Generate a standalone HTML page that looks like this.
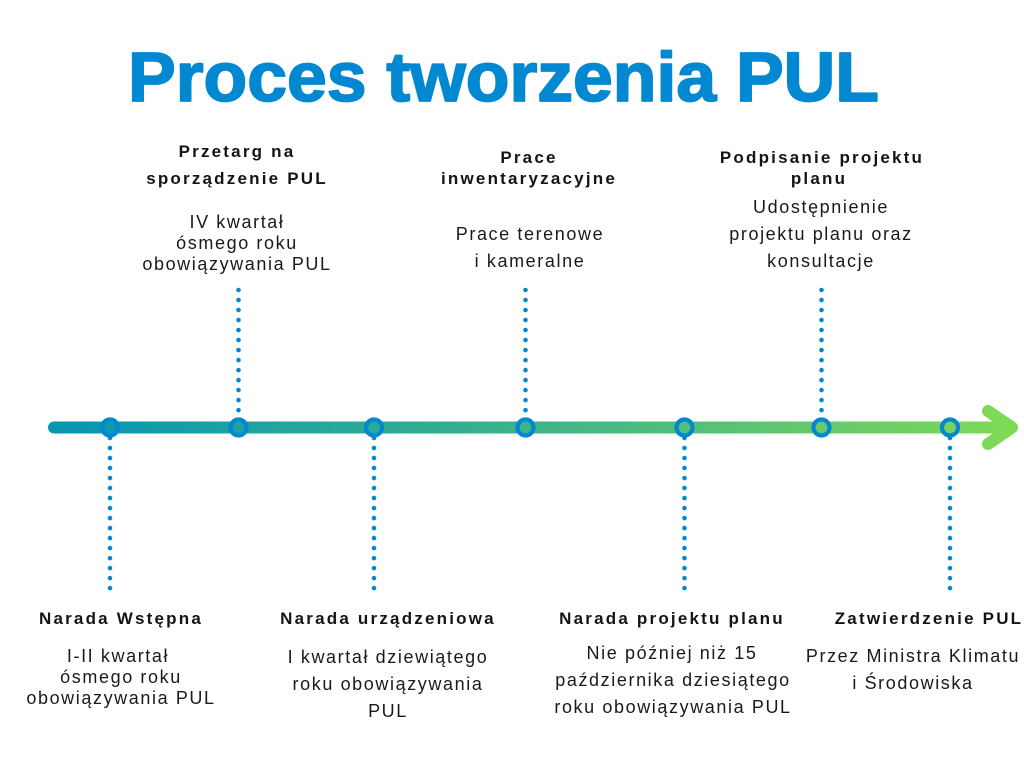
<!DOCTYPE html>
<html>
<head>
<meta charset="utf-8">
<style>
  html,body{margin:0;padding:0;background:#fff;}
  svg{display:block;}
  .h{font-family:"Liberation Sans",Arial,sans-serif;font-weight:bold;font-size:17px;letter-spacing:2.2px;fill:#141414;}
  .t{font-family:"Liberation Sans",Arial,sans-serif;font-size:18px;letter-spacing:1.6px;fill:#1a1a1a;}
  .title{font-family:"Liberation Sans",Arial,sans-serif;font-weight:bold;font-size:70px;fill:#0288d1;stroke:#0288d1;stroke-width:1.8px;stroke-linejoin:round;}
</style>
</head>
<body>
<svg width="1024" height="768" viewBox="0 0 1024 768" xmlns="http://www.w3.org/2000/svg">
  <defs>
    <linearGradient id="g" gradientUnits="userSpaceOnUse" x1="48" y1="0" x2="1010" y2="0">
      <stop offset="0" stop-color="#0895b3"/>
      <stop offset="0.5" stop-color="#3db38a"/>
      <stop offset="1" stop-color="#7ed957"/>
    </linearGradient>
  </defs>

  <!-- Title -->
  <text class="title" x="128" y="101" textLength="751" lengthAdjust="spacingAndGlyphs">Proces tworzenia PUL</text>

  <!-- Dotted connectors (top) -->
  <g stroke="#0288d1" stroke-width="4.6" stroke-linecap="round" stroke-dasharray="0.01 10" fill="none">
    <line x1="238.5" y1="290" x2="238.5" y2="411"/>
    <line x1="525.5" y1="290" x2="525.5" y2="411"/>
    <line x1="821.5" y1="290" x2="821.5" y2="411"/>
    <!-- bottom -->
    <line x1="110" y1="438" x2="110" y2="589"/>
    <line x1="374" y1="438" x2="374" y2="589"/>
    <line x1="684.5" y1="438" x2="684.5" y2="589"/>
    <line x1="950" y1="438" x2="950" y2="589"/>
  </g>

  <!-- Timeline -->
  <line x1="54" y1="427.5" x2="1008" y2="427.5" stroke="url(#g)" stroke-width="12" stroke-linecap="round"/>
  <polyline points="988,411 1012,427.5 988,444" fill="none" stroke="#7ed957" stroke-width="12" stroke-linecap="round" stroke-linejoin="round"/>

  <!-- Nodes -->
  <g stroke="#0288d1" stroke-width="4.2" fill="none">
    <circle cx="110" cy="427.5" r="8"/>
    <circle cx="238.5" cy="427.5" r="8"/>
    <circle cx="374" cy="427.5" r="8"/>
    <circle cx="525.5" cy="427.5" r="8"/>
    <circle cx="684.5" cy="427.5" r="8"/>
    <circle cx="821.5" cy="427.5" r="8"/>
    <circle cx="950" cy="427.5" r="8"/>
  </g>

  <!-- Top labels -->
  <g text-anchor="middle">
    <text class="h" x="237" y="157">Przetarg na</text>
    <text class="h" x="237" y="184">sporządzenie PUL</text>
    <text class="t" x="237" y="228">IV kwartał</text>
    <text class="t" x="237" y="249">ósmego roku</text>
    <text class="t" x="237" y="270">obowiązywania PUL</text>

    <text class="h" x="529" y="163">Prace</text>
    <text class="h" x="529" y="184">inwentaryzacyjne</text>
    <text class="t" x="530" y="240">Prace terenowe</text>
    <text class="t" x="530" y="267">i kameralne</text>

    <text class="h" x="822" y="163">Podpisanie projektu</text>
    <text class="h" x="819" y="184">planu</text>
    <text class="t" x="821" y="213">Udostępnienie</text>
    <text class="t" x="821" y="240">projektu planu oraz</text>
    <text class="t" x="821" y="267">konsultacje</text>
  </g>

  <!-- Bottom labels -->
  <g text-anchor="middle">
    <text class="h" x="121" y="624">Narada Wstępna</text>
    <text class="t" x="118" y="662">I-II kwartał</text>
    <text class="t" x="121" y="683">ósmego roku</text>
    <text class="t" x="121" y="704">obowiązywania PUL</text>

    <text class="h" x="388" y="624">Narada urządzeniowa</text>
    <text class="t" x="388" y="663">I kwartał dziewiątego</text>
    <text class="t" x="388" y="690">roku obowiązywania</text>
    <text class="t" x="388" y="717">PUL</text>

    <text class="h" x="672" y="624">Narada projektu planu</text>
    <text class="t" x="672" y="659">Nie później niż 15</text>
    <text class="t" x="673" y="686">października dziesiątego</text>
    <text class="t" x="673" y="713">roku obowiązywania PUL</text>

    <text class="h" x="929" y="624">Zatwierdzenie PUL</text>
    <text class="t" x="913" y="662">Przez Ministra Klimatu</text>
    <text class="t" x="913" y="689">i Środowiska</text>
  </g>
</svg>
</body>
</html>
